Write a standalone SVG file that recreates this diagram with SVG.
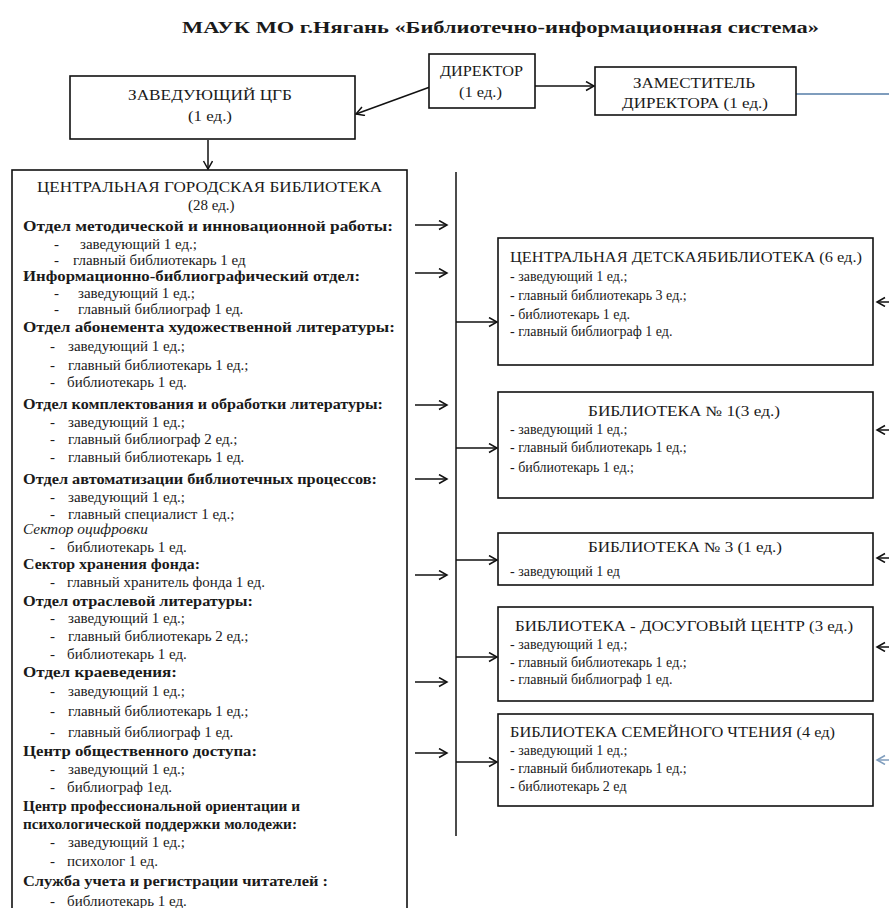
<svg xmlns="http://www.w3.org/2000/svg" width="889" height="908" viewBox="0 0 889 908">
<style>
  .t { font-family: "Liberation Serif", "DejaVu Serif", serif; font-size: 17px; font-weight: bold; fill: #1a1a1a; }
  .h { font-family: "Liberation Serif", "DejaVu Serif", serif; font-size: 15px; fill: #1a1a1a; }
  .r { font-family: "Liberation Serif", "DejaVu Serif", serif; font-size: 15px; fill: #1a1a1a; }
  .b { font-family: "Liberation Serif", "DejaVu Serif", serif; font-size: 14.5px; font-weight: bold; fill: #1a1a1a; }
  .i { font-family: "Liberation Serif", "DejaVu Serif", serif; font-size: 14.5px; font-style: italic; fill: #1a1a1a; }
  .s { font-family: "Liberation Serif", "DejaVu Serif", serif; font-size: 14px; fill: #1a1a1a; }
  .si { font-family: "Liberation Serif", "DejaVu Serif", serif; font-size: 14px; fill: #1a1a1a; }
  .box { fill: #fff; stroke: #111; stroke-width: 1.6; }
  .ln { fill: none; stroke: #111; stroke-width: 1.5; }
  .ar { fill: none; stroke: #111; stroke-width: 1.5; marker-end: url(#ah); }
  .arb { fill: none; stroke: #7f9dbd; stroke-width: 1.5; marker-end: url(#ahb); }
</style>
<defs>
  <marker id="ah" markerUnits="userSpaceOnUse" markerWidth="12" markerHeight="12" refX="9" refY="5" orient="auto">
    <path d="M1,0.5 L9,5 L1,9.5" fill="none" stroke="#111" stroke-width="1.5"/>
  </marker>
  <marker id="ahb" markerUnits="userSpaceOnUse" markerWidth="12" markerHeight="12" refX="9" refY="5" orient="auto">
    <path d="M1,0.5 L9,5 L1,9.5" fill="none" stroke="#7f9dbd" stroke-width="1.5"/>
  </marker>
</defs>
<rect width="889" height="908" fill="#fff"/>

<text class="t" x="182" y="33" textLength="637" lengthAdjust="spacingAndGlyphs">МАУК МО г.Нягань «Библиотечно-информационная система»</text>

<g id="connectors">
  <line class="ar" x1="535" y1="86" x2="594" y2="86"/>
  <line class="ar" x1="430" y1="87" x2="356" y2="114"/>
  <line class="ar" x1="208" y1="140" x2="208" y2="169"/>
  <line x1="796" y1="94" x2="889" y2="94" stroke="#7f9dbd" stroke-width="2"/>
  <line class="ln" x1="456" y1="172" x2="456" y2="836"/>
  <line class="ar" x1="415" y1="225" x2="447" y2="225"/>
  <line class="ar" x1="415" y1="273" x2="447" y2="273"/>
  <line class="ar" x1="415" y1="405" x2="447" y2="405"/>
  <line class="ar" x1="415" y1="479" x2="447" y2="479"/>
  <line class="ar" x1="415" y1="575" x2="447" y2="575"/>
  <line class="ar" x1="415" y1="682" x2="447" y2="682"/>
  <line class="ar" x1="415" y1="753" x2="447" y2="753"/>
  <line class="ar" x1="456" y1="322" x2="497" y2="322"/>
  <line class="ar" x1="456" y1="448" x2="497" y2="448"/>
  <line class="ar" x1="456" y1="560" x2="497" y2="560"/>
  <line class="ar" x1="456" y1="657" x2="497" y2="657"/>
  <line class="ar" x1="456" y1="762" x2="497" y2="762"/>
  <line class="ar" x1="892" y1="302" x2="877" y2="302"/>
  <line class="ar" x1="892" y1="430" x2="877" y2="430"/>
  <line class="ar" x1="892" y1="558" x2="877" y2="558"/>
  <line class="ar" x1="892" y1="647" x2="877" y2="647"/>
  <line class="arb" x1="892" y1="760" x2="877" y2="760"/>
</g>

<g id="director">
  <rect class="box" x="429" y="54" width="106" height="54"/>
  <text class="h" x="440" y="76" textLength="83" lengthAdjust="spacingAndGlyphs">ДИРЕКТОР</text>
  <text class="h" x="459" y="97" textLength="43" lengthAdjust="spacingAndGlyphs">(1 ед.)</text>
</g>

<g id="deputy">
  <rect class="box" x="595" y="67" width="201" height="48"/>
  <text class="h" x="633" y="88" textLength="122" lengthAdjust="spacingAndGlyphs">ЗАМЕСТИТЕЛЬ</text>
  <text class="h" x="622" y="108" textLength="146" lengthAdjust="spacingAndGlyphs">ДИРЕКТОРА (1 ед.)</text>
</g>

<g id="head-cgb">
  <rect class="box" x="70" y="76" width="285" height="63"/>
  <text class="h" x="128" y="100" textLength="164" lengthAdjust="spacingAndGlyphs">ЗАВЕДУЮЩИЙ ЦГБ</text>
  <text class="h" x="188" y="121" textLength="44" lengthAdjust="spacingAndGlyphs">(1 ед.)</text>
</g>

<g id="cgb">
  <rect class="box" x="12" y="170" width="395" height="750"/>
  <text class="r" x="37" y="192" textLength="345" lengthAdjust="spacingAndGlyphs">ЦЕНТРАЛЬНАЯ ГОРОДСКАЯ БИБЛИОТЕКА</text>
  <text class="r" x="188" y="210">(28 ед.)</text>
  <text class="b" x="23" y="231" textLength="370" lengthAdjust="spacingAndGlyphs">Отдел методической и инновационной работы:</text>
  <text class="r" x="54" y="249">-</text><text class="r" x="80" y="249">заведующий 1 ед.;</text>
  <text class="r" x="54" y="265">-</text><text class="r" x="73" y="265">главный библиотекарь 1 ед</text>
  <text class="b" x="23" y="281" textLength="337" lengthAdjust="spacingAndGlyphs">Информационно-библиографический отдел:</text>
  <text class="r" x="54" y="298">-</text><text class="r" x="78" y="298">заведующий 1 ед.;</text>
  <text class="r" x="54" y="314">-</text><text class="r" x="78" y="314">главный библиограф  1 ед.</text>
  <text class="b" x="23" y="332" textLength="372" lengthAdjust="spacingAndGlyphs">Отдел абонемента художественной литературы:</text>
  <text class="r" x="50" y="351">-</text><text class="r" x="68" y="351">заведующий 1 ед.;</text>
  <text class="r" x="50" y="370">-</text><text class="r" x="68" y="370">главный библиотекарь 1 ед.;</text>
  <text class="r" x="50" y="387">-</text><text class="r" x="67" y="387">библиотекарь 1 ед.</text>
  <text class="b" x="23" y="409" textLength="360" lengthAdjust="spacingAndGlyphs">Отдел комплектования и обработки литературы:</text>
  <text class="r" x="50" y="427">-</text><text class="r" x="68" y="427">заведующий 1 ед.;</text>
  <text class="r" x="50" y="444">-</text><text class="r" x="68" y="444">главный библиограф 2 ед.;</text>
  <text class="r" x="50" y="462">-</text><text class="r" x="68" y="462">главный библиотекарь 1 ед.</text>
  <text class="b" x="23" y="484" textLength="354" lengthAdjust="spacingAndGlyphs">Отдел автоматизации библиотечных процессов:</text>
  <text class="r" x="50" y="502">-</text><text class="r" x="68" y="502">заведующий 1 ед.;</text>
  <text class="r" x="50" y="519">-</text><text class="r" x="68" y="519">главный специалист 1 ед.;</text>
  <text class="i" x="23" y="534" textLength="125" lengthAdjust="spacingAndGlyphs">Сектор оцифровки</text>
  <text class="r" x="50" y="552">-</text><text class="r" x="67" y="552">библиотекарь 1 ед.</text>
  <text class="b" x="23" y="569" textLength="177" lengthAdjust="spacingAndGlyphs">Сектор хранения фонда:</text>
  <text class="r" x="50" y="587">-</text><text class="r" x="67" y="587">главный хранитель фонда 1 ед.</text>
  <text class="b" x="23" y="606" textLength="230" lengthAdjust="spacingAndGlyphs">Отдел отраслевой литературы:</text>
  <text class="r" x="50" y="623">-</text><text class="r" x="68" y="623">заведующий 1 ед.;</text>
  <text class="r" x="50" y="641">-</text><text class="r" x="68" y="641">главный библиотекарь 2 ед.;</text>
  <text class="r" x="50" y="659">-</text><text class="r" x="67" y="659">библиотекарь 1 ед.</text>
  <text class="b" x="23" y="677" textLength="154" lengthAdjust="spacingAndGlyphs">Отдел краеведения:</text>
  <text class="r" x="50" y="696">-</text><text class="r" x="68" y="696">заведующий 1 ед.;</text>
  <text class="r" x="50" y="716">-</text><text class="r" x="68" y="716">главный библиотекарь 1 ед.;</text>
  <text class="r" x="50" y="737">-</text><text class="r" x="68" y="737">главный библиограф 1 ед.</text>
  <text class="b" x="23" y="756" textLength="234" lengthAdjust="spacingAndGlyphs">Центр общественного доступа:</text>
  <text class="r" x="50" y="774">-</text><text class="r" x="68" y="774">заведующий 1 ед.;</text>
  <text class="r" x="50" y="792">-</text><text class="r" x="67" y="792">библиограф 1ед.</text>
  <text class="b" x="23" y="811" textLength="277" lengthAdjust="spacingAndGlyphs">Центр профессиональной ориентации и</text>
  <text class="b" x="23" y="829" textLength="274" lengthAdjust="spacingAndGlyphs">психологической поддержки молодежи:</text>
  <text class="r" x="50" y="847">-</text><text class="r" x="68" y="847">заведующий 1 ед.;</text>
  <text class="r" x="50" y="866">-</text><text class="r" x="67" y="866">психолог 1 ед.</text>
  <text class="b" x="23" y="886" textLength="305" lengthAdjust="spacingAndGlyphs">Служба учета и регистрации читателей :</text>
  <text class="r" x="50" y="906">-</text><text class="r" x="67" y="906">библиотекарь 1 ед.</text>
</g>

<g id="cdb">
  <rect class="box" x="498" y="238" width="375" height="127"/>
  <text class="s" x="510" y="262" textLength="352" lengthAdjust="spacingAndGlyphs">ЦЕНТРАЛЬНАЯ ДЕТСКАЯБИБЛИОТЕКА (6 ед.)</text>
  <text class="si" x="510" y="281">- заведующий 1 ед.;</text>
  <text class="si" x="510" y="300">- главный библиотекарь 3 ед.;</text>
  <text class="si" x="510" y="319">- библиотекарь 1 ед.</text>
  <text class="si" x="510" y="336">- главный библиограф 1 ед.</text>
</g>

<g id="lib1">
  <rect class="box" x="498" y="392" width="375" height="106"/>
  <text class="s" x="588" y="416" textLength="192" lengthAdjust="spacingAndGlyphs">БИБЛИОТЕКА № 1(3 ед.)</text>
  <text class="si" x="510" y="434">- заведующий 1 ед.;</text>
  <text class="si" x="510" y="452">- главный библиотекарь 1 ед.;</text>
  <text class="si" x="510" y="472">- библиотекарь 1 ед.;</text>
</g>

<g id="lib3">
  <rect class="box" x="498" y="533" width="375" height="52"/>
  <text class="s" x="588" y="552" textLength="194" lengthAdjust="spacingAndGlyphs">БИБЛИОТЕКА № 3 (1 ед.)</text>
  <text class="si" x="510" y="576">- заведующий 1 ед</text>
</g>

<g id="leisure">
  <rect class="box" x="498" y="607" width="375" height="94"/>
  <text class="s" x="515" y="631" textLength="338" lengthAdjust="spacingAndGlyphs">БИБЛИОТЕКА - ДОСУГОВЫЙ ЦЕНТР (3 ед.)</text>
  <text class="si" x="510" y="649">- заведующий 1 ед.;</text>
  <text class="si" x="510" y="667">- главный библиотекарь 1 ед.;</text>
  <text class="si" x="510" y="684">- главный библиограф 1 ед.</text>
</g>

<g id="family">
  <rect class="box" x="498" y="714" width="375" height="92"/>
  <text class="s" x="510" y="737" textLength="325" lengthAdjust="spacingAndGlyphs">БИБЛИОТЕКА СЕМЕЙНОГО ЧТЕНИЯ (4 ед)</text>
  <text class="si" x="510" y="755">- заведующий 1 ед.;</text>
  <text class="si" x="510" y="773">- главный библиотекарь 1 ед.;</text>
  <text class="si" x="510" y="791">- библиотекарь 2 ед</text>
</g>
</svg>
